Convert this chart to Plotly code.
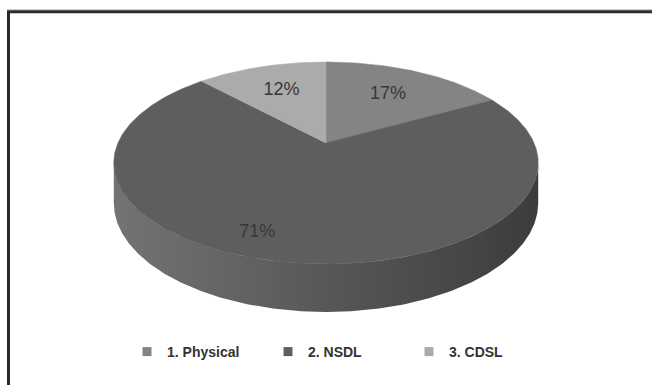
import numpy as np
import plotly.graph_objects as go

# ---- data ----
categories = ["1. Physical", "2. NSDL", "3. CDSL"]
values = [17, 71, 12]

# ---- styles ----
top_colors = ["#848484", "#5e5e5e", "#ababab"]
side_grad = [("#9a9a9a", "#5a5a5a"), ("#737373", "#3c3c3c"), ("#c2c2c2", "#7f7f7f")]
label_radius = [0.65, 0.83, 0.65]
label_angle_shift = [0.0, 10.7, 0.0]

W, H = 652, 385
cx, cy = 326.0, 143.0   # apex of the pie (pixel space)
A, B = 208.0, 97.0      # semi axes of the projected top face
k = 0.198               # perspective factor
depth = 38.5            # thickness of the pie


def proj(theta_deg, f=1.0, drop=0.0):
    t = np.radians(theta_deg)
    d = 1 + k * f * np.cos(t)
    x = cx + A * f * np.sin(t) / d
    y = cy - B * f * np.cos(t) / d + drop / (1 + k * np.cos(t))
    return x, y


total = float(sum(values))
ends = np.cumsum(values) / total * 360.0
starts = np.concatenate([[0.0], ends[:-1]])

th_r = np.degrees(np.arccos(-k))
th_l = 360.0 - th_r

fig = go.Figure()

# side walls (visible front part only)
for i, (a0, a1) in enumerate(zip(starts, ends)):
    s0, s1 = max(a0, th_r), min(a1, th_l)
    if s1 <= s0:
        continue
    th = np.linspace(s0, s1, 300)
    xt, yt = proj(th)
    xb, yb = proj(th[::-1], drop=depth)
    xs = np.concatenate([xt, xb, xt[:1]])
    ys = np.concatenate([yt, yb, yt[:1]])
    fig.add_trace(go.Scatter(
        x=xs, y=ys, mode="lines", fill="toself", line=dict(width=0),
        fillgradient=dict(type="horizontal",
                          colorscale=[[0, side_grad[i][0]], [1, side_grad[i][1]]]),
        hoverinfo="skip", showlegend=False))

# top faces
for i, (a0, a1) in enumerate(zip(starts, ends)):
    th = np.linspace(a0, a1, max(int((a1 - a0) * 2), 10))
    xr, yr = proj(th)
    xs = np.concatenate([[cx], xr, [cx]])
    ys = np.concatenate([[cy], yr, [cy]])
    fig.add_trace(go.Scatter(
        x=xs, y=ys, mode="lines", fill="toself", fillcolor=top_colors[i],
        line=dict(width=0.6, color=top_colors[i]),
        hoverinfo="skip", showlegend=False))

# percentage labels
lx, ly, lt = [], [], []
for i, (a0, a1) in enumerate(zip(starts, ends)):
    mid = (a0 + a1) / 2 + label_angle_shift[i]
    x, y = proj(mid, f=label_radius[i])
    lx.append(x)
    ly.append(y)
    lt.append(f"{values[i] / total * 100:.0f}%")
fig.add_trace(go.Scatter(
    x=lx, y=ly, mode="text", text=lt,
    textfont=dict(family="Liberation Sans, Arial, sans-serif", size=18, color="#383838"),
    hoverinfo="skip", showlegend=False))

# legend entries
for i, cat in enumerate(categories):
    fig.add_trace(go.Scatter(
        x=[None], y=[None], mode="markers", name=cat,
        marker=dict(symbol="square", size=9, color=top_colors[i])))

# frame
fig.add_shape(type="line", xref="paper", yref="paper", x0=7 / W, x1=1, y0=1 - 9.5 / H, y1=1 - 9.5 / H,
              line=dict(color="#c8c8c8", width=1))
fig.add_shape(type="rect", xref="paper", yref="paper", x0=8.5 / W, x1=1.2, y0=-0.2, y1=1 - 11.7 / H,
              line=dict(color="#2a2a2a", width=3))

fig.update_layout(
    width=W, height=H,
    margin=dict(l=0, r=0, t=0, b=0),
    paper_bgcolor="white", plot_bgcolor="white",
    xaxis=dict(range=[0, W], visible=False, fixedrange=True),
    yaxis=dict(range=[H, 0], visible=False, fixedrange=True),
    showlegend=True,
    legend=dict(orientation="h", x=127 / W, xanchor="left", y=1 - 352 / H, yanchor="middle",
                entrywidth=96, bgcolor="rgba(0,0,0,0)",
                font=dict(family="Liberation Sans, Arial, sans-serif",
                          size=14, color="#333333", weight="bold")),
)

fig.write_html("out.html")
